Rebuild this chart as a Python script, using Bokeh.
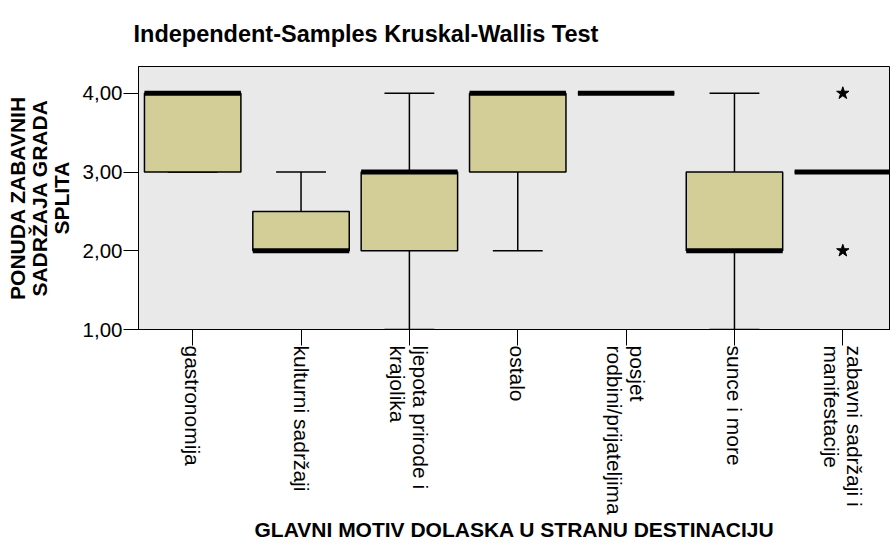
import math
from bokeh.plotting import figure
from bokeh.models import Range1d, FixedTicker
from bokeh.embed import file_html
from bokeh.resources import INLINE

# ---- data ----
categories = ["gastronomija", "kulturni sadržaji", "ljepota prirode i\nkrajolika", "ostalo",
              "posjet\nrodbini/prijateljima", "sunce i more", "zabavni sadržaji i\nmanifestacije"]
lower_whisker = [3.0, 2.0, 1.0, 2.0, 4.0, 1.0, 3.0]
q1 = [3.0, 2.0, 2.0, 3.0, 4.0, 2.0, 3.0]
median = [4.0, 2.0, 3.0, 4.0, 4.0, 2.0, 3.0]
q3 = [4.0, 2.5, 3.0, 4.0, 4.0, 3.0, 3.0]
upper_whisker = [4.0, 3.0, 4.0, 4.0, 4.0, 4.0, 3.0]
outlier_cat = [6, 6]
outlier_val = [4.0, 2.0]
y_ticks = [1, 2, 3, 4]
y_tick_labels = ["1,00", "2,00", "3,00", "4,00"]

title_text = "Independent-Samples Kruskal-Wallis Test"
x_title = "GLAVNI MOTIV DOLASKA U STRANU DESTINACIJU"
y_title = "PONUDA ZABAVNIH\nSADRŽAJA GRADA\nSPLITA"

xs = list(range(len(categories)))
box_w = 0.89
cap_w = 0.46

p = figure(width=890, height=543, output_backend="svg", toolbar_location=None,
           x_range=Range1d(-0.5, 6.44), y_range=Range1d(1.0, 4.34),
           min_border_left=138, min_border_right=0, min_border_top=66, min_border_bottom=214)

p.title.text = title_text
p.title.text_font = "Liberation Sans"
p.title.text_font_style = "bold"
p.title.text_font_size = "23.5px"
p.title.text_color = "black"
p.title.align = "left"
p.title.vertical_align = "middle"
p.title.offset = -5
p.title.standoff = 37

p.background_fill_color = "#E9E9E9"
p.border_fill_color = "white"
p.outline_line_color = "black"
p.outline_line_width = 1
p.xgrid.visible = False
p.ygrid.visible = False

# whiskers
p.segment(x0=xs, x1=xs, y0=q3, y1=upper_whisker, line_color="black", line_width=1.5)
p.segment(x0=xs, x1=xs, y0=lower_whisker, y1=q1, line_color="black", line_width=1.5)
p.segment(x0=[x - cap_w / 2 for x in xs], x1=[x + cap_w / 2 for x in xs],
          y0=upper_whisker, y1=upper_whisker, line_color="black", line_width=1.5)
p.segment(x0=[x - cap_w / 2 for x in xs], x1=[x + cap_w / 2 for x in xs],
          y0=lower_whisker, y1=lower_whisker, line_color="black", line_width=1.5)

# boxes
p.vbar(x=xs, width=box_w, bottom=q1, top=q3, fill_color="#D3CE97",
       line_color="black", line_width=1.5)

# medians
p.segment(x0=[x - box_w / 2 for x in xs], x1=[x + box_w / 2 for x in xs],
          y0=median, y1=median, line_color="black", line_width=5, line_cap="butt")

# outliers
p.scatter(x=outlier_cat, y=outlier_val, marker="star", size=13,
          fill_color="black", line_color="black")

# y axis
yax = p.yaxis[0]
yax.ticker = FixedTicker(ticks=y_ticks)
yax.major_label_overrides = {t: l for t, l in zip(y_ticks, y_tick_labels)}
yax.minor_tick_line_color = None
yax.major_tick_in = 0
yax.major_tick_out = 15
yax.major_tick_line_color = "black"
yax.axis_line_color = "black"
yax.major_label_text_font = "Liberation Sans"
yax.major_label_text_font_size = "20.5px"
yax.major_label_text_color = "black"
yax.major_label_standoff = 1
yax.axis_label = y_title
yax.axis_label_text_font = "Liberation Sans"
yax.axis_label_text_font_style = "bold"
yax.axis_label_text_font_size = "21px"
yax.axis_label_text_line_height = 0.94
yax.axis_label_text_color = "black"
yax.axis_label_standoff = 7

# x axis
xax = p.xaxis[0]
xax.ticker = FixedTicker(ticks=xs)
xax.major_label_overrides = {x: c for x, c in zip(xs, categories)}
xax.major_label_orientation = -math.pi / 2
xax.minor_tick_line_color = None
xax.major_tick_in = 0
xax.major_tick_out = 16
xax.major_tick_line_color = "black"
xax.axis_line_color = "black"
xax.major_label_text_font = "Liberation Sans"
xax.major_label_text_font_size = "21px"
xax.major_label_text_line_height = 1.0
xax.major_label_text_color = "black"
xax.major_label_standoff = 0
xax.axis_label = x_title
xax.axis_label_text_font = "Liberation Sans"
xax.axis_label_text_font_style = "bold"
xax.axis_label_text_font_size = "21px"
xax.axis_label_text_line_height = 1.0
xax.axis_label_text_color = "black"
xax.axis_label_standoff = 0

open("out.html", "w").write(file_html(p, INLINE))
